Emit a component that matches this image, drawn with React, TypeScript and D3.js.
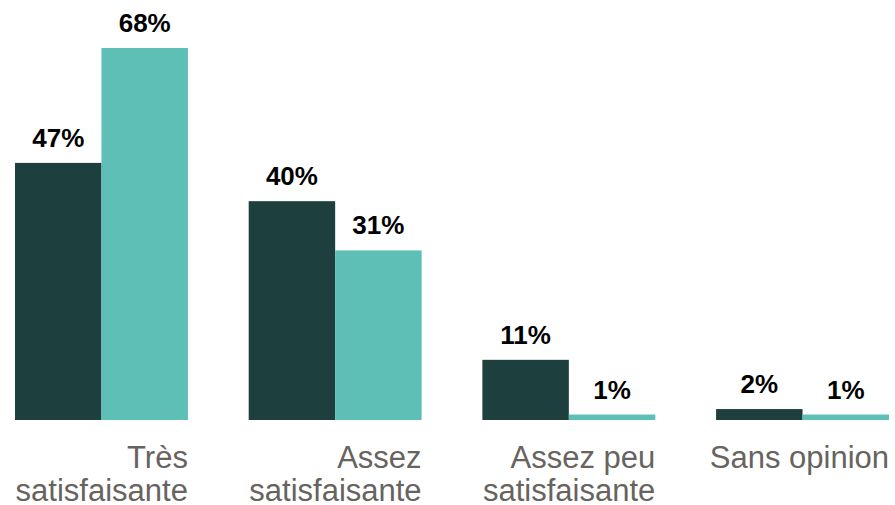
import * as d3 from "d3";

// catégories (deux lignes par libellé) et séries
const categories = ["Très satisfaisante", "Assez satisfaisante", "Assez peu satisfaisante", "Sans opinion"];
const categoryLines = [["Très", "satisfaisante"], ["Assez", "satisfaisante"], ["Assez peu", "satisfaisante"], ["Sans opinion"]];
const series = ["serie1", "serie2"];
const serie1 = [47, 40, 11, 2];
const serie2 = [68, 31, 1, 1];
const colors = ["#1d403e", "#5ebfb6"];

export default function App() {
  const width = 895;
  const height = 505;
  const baseline = 420;

  const x0 = d3.scaleBand<string>().domain(categories).range([15, 889]).paddingInner(0.26).paddingOuter(0);
  const x1 = d3.scaleBand<string>().domain(series).range([0, x0.bandwidth()]).padding(0);
  const y = d3.scaleLinear().domain([0, 68]).range([baseline, 48]);

  const values = [serie1, serie2];
  const font = "'Liberation Sans', Arial, sans-serif";

  return (
    <svg
      width={width}
      height={height}
      style={{ position: "absolute", left: 0, top: 0, background: "#fff" }}
    >
      {categories.map((cat, ci) => (
        <g key={cat} transform={`translate(${x0(cat)},0)`}>
          {series.map((s, si) => {
            const v = values[si][ci];
            const bx = x1(s) ?? 0;
            return (
              <g key={s}>
                <rect
                  x={bx}
                  y={y(v)}
                  width={x1.bandwidth()}
                  height={baseline - y(v)}
                  fill={colors[si]}
                />
                <text
                  x={bx + x1.bandwidth() / 2}
                  y={y(v) - 16}
                  textAnchor="middle"
                  fontFamily={font}
                  fontWeight="bold"
                  fontSize={26}
                  fill="#000"
                >
                  {v}%
                </text>
              </g>
            );
          })}
          <text
            x={x0.bandwidth()}
            y={468}
            textAnchor="end"
            fontFamily={font}
            fontSize={31}
            fill="#67635e"
          >
            {categoryLines[ci].map((line, li) => (
              <tspan key={li} x={x0.bandwidth()} dy={li === 0 ? 0 : 33}>
                {line}
              </tspan>
            ))}
          </text>
        </g>
      ))}
    </svg>
  );
}
